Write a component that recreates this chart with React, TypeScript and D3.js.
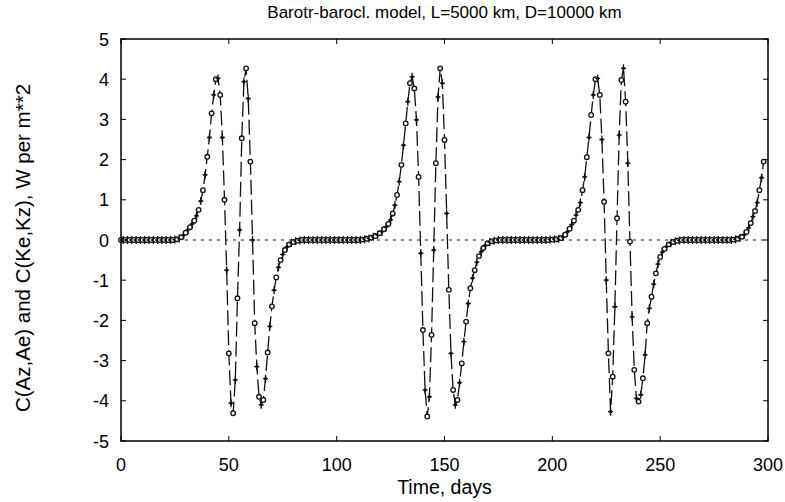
import * as d3 from "d3";

const TITLE = "Barotr-barocl. model, L=5000 km, D=10000 km";
const X_LABEL = "Time, days";
const Y_LABEL = "C(Az,Ae) and C(Ke,Kz), W per m**2";

const X_TICKS = [0, 50, 100, 150, 200, 250, 300];
const Y_TICKS = [-5, -4, -3, -2, -1, 0, 1, 2, 3, 4, 5];

// energy conversion, one value per day (index = day)
const FLUX = [
  // days 0-24: quiet
  0, 0, 0, 0, 0, 0, 0, 0, 0, 0, 0, 0, 0, 0, 0, 0, 0, 0, 0, 0, 0, 0, 0, 0, 0,
  // first event, days 25-83
  0.01, 0.02, 0.04, 0.07, 0.12, 0.18, 0.25, 0.32, 0.4, 0.48,
  0.6, 0.75, 0.97, 1.24, 1.62, 2.07, 2.55, 3.15, 3.61, 4.0,
  4.02, 3.61, 2.55, 1.0, -0.75, -2.82, -4.06, -4.31, -3.48, -1.45,
  0.25, 2.53, 3.94, 4.27, 3.52, 1.95, 0.0, -2.07, -3.15, -3.9,
  -4.1, -3.98, -3.45, -2.8, -2.15, -1.65, -1.25, -0.93, -0.68, -0.5,
  -0.36, -0.25, -0.17, -0.11, -0.07, -0.05, -0.03, -0.02, -0.01,
  // days 84-111: quiet
  0, 0, 0, 0, 0, 0, 0, 0, 0, 0, 0, 0, 0, 0, 0, 0, 0, 0, 0, 0, 0, 0, 0, 0, 0, 0, 0, 0,
  // second event, days 112-174
  0.01, 0.02, 0.03, 0.04, 0.06, 0.08, 0.1, 0.13, 0.17, 0.21,
  0.27, 0.33, 0.4, 0.5, 0.66, 0.87, 1.12, 1.45, 1.87, 2.36,
  2.9, 3.44, 3.9, 4.06, 3.77, 2.99, 1.57, -0.33, -2.24, -3.73,
  -4.39, -3.9, -2.36, -0.25, 1.91, 3.56, 4.27, 3.9, 2.49, 0.66,
  -1.24, -2.82, -3.73, -4.1, -3.98, -3.55, -3.07, -2.53, -2.03, -1.58,
  -1.2, -0.95, -0.75, -0.55, -0.4, -0.29, -0.2, -0.13, -0.08, -0.05,
  -0.03, -0.02, -0.01,
  // days 175-198: quiet
  0, 0, 0, 0, 0, 0, 0, 0, 0, 0, 0, 0, 0, 0, 0, 0, 0, 0, 0, 0, 0, 0, 0, 0,
  // third event, days 199-259
  0.01, 0.01, 0.02, 0.02, 0.03, 0.05, 0.08, 0.13, 0.2, 0.28,
  0.38, 0.48, 0.62, 0.75, 0.93, 1.24, 1.57, 2.06, 2.55, 3.11,
  3.61, 4.0, 4.02, 3.61, 2.5, 0.95, -1.0, -2.82, -4.27, -3.4,
  -1.66, 0.54, 2.61, 3.98, 4.27, 3.44, 1.91, -0.04, -1.91, -3.23,
  -3.94, -4.02, -3.85, -3.44, -2.86, -2.07, -1.7, -1.41, -1.1, -0.83,
  -0.6, -0.42, -0.3, -0.22, -0.16, -0.11, -0.07, -0.05, -0.03, -0.02,
  -0.01,
  // days 260-283: quiet
  0, 0, 0, 0, 0, 0, 0, 0, 0, 0, 0, 0, 0, 0, 0, 0, 0, 0, 0, 0, 0, 0, 0, 0,
  // fourth event starting, days 284-298
  0.01, 0.02, 0.03, 0.05, 0.08, 0.13, 0.2, 0.3, 0.42, 0.58,
  0.72, 0.93, 1.24, 1.55, 1.95,
];

const FONT = "'Liberation Sans', Arial, Helvetica, sans-serif";
const WIDTH = 785;
const HEIGHT = 502;

interface Pt {
  day: number;
  value: number;
}

export default function App() {
  const x = d3.scaleLinear().domain([0, 300]).range([121, 768]);
  const y = d3.scaleLinear().domain([-5, 5]).range([441, 39]);

  const points: Pt[] = FLUX.map((value, day) => ({ day, value }));
  const line = d3
    .line<Pt>()
    .x((d) => x(d.day))
    .y((d) => y(d.value));

  const [x0, x1] = x.range();
  const [yb, yt] = y.range();
  const tick = 5;

  return (
    <svg
      width={WIDTH}
      height={HEIGHT}
      style={{ position: "absolute", left: 0, top: 0, background: "#fff" }}
      fontFamily={FONT}
    >
      <text x={(x0 + x1) / 2} y={18} textAnchor="middle" fontSize={17}>
        {TITLE}
      </text>

      {/* zero reference */}
      <line
        x1={x(0)}
        x2={x(300)}
        y1={y(0)}
        y2={y(0)}
        stroke="#222"
        strokeWidth={1}
        strokeDasharray="3,5"
      />

      {/* series line */}
      <path
        d={line(points) ?? ""}
        fill="none"
        stroke="#111"
        strokeWidth={1.3}
        strokeDasharray="15,5"
      />

      {/* markers: C(Az,Ae) circles, C(Ke,Kz) crosses */}
      {points.map((p) =>
        p.day % 2 === 0 ? (
          <circle
            key={p.day}
            cx={x(p.day)}
            cy={y(p.value)}
            r={2.3}
            fill="#fff"
            stroke="#111"
            strokeWidth={1.3}
          />
        ) : (
          <g key={p.day} transform={`translate(${x(p.day)},${y(p.value)})`}>
            <path d="M0,-4V4M-2.5,0H2.5" stroke="#111" strokeWidth={1.3} />
            <circle r={1.6} fill="#111" />
          </g>
        )
      )}

      {/* frame */}
      <rect
        x={x0}
        y={yt}
        width={x1 - x0}
        height={yb - yt}
        fill="none"
        stroke="#000"
        strokeWidth={1.5}
      />

      {X_TICKS.map((t) => (
        <g key={`x${t}`}>
          <line x1={x(t)} x2={x(t)} y1={yb} y2={yb - tick} stroke="#000" />
          <line x1={x(t)} x2={x(t)} y1={yt} y2={yt + tick} stroke="#000" />
          <text x={x(t)} y={471} textAnchor="middle" fontSize={18}>
            {t}
          </text>
        </g>
      ))}

      {Y_TICKS.map((t) => (
        <g key={`y${t}`}>
          <line x1={x0} x2={x0 + tick} y1={y(t)} y2={y(t)} stroke="#000" />
          <line x1={x1} x2={x1 - tick} y1={y(t)} y2={y(t)} stroke="#000" />
          <text x={109} y={y(t) + 6.5} textAnchor="end" fontSize={18}>
            {t}
          </text>
        </g>
      ))}

      <text x={(x0 + x1) / 2} y={494} textAnchor="middle" fontSize={19.5}>
        {X_LABEL}
      </text>
      <text
        transform={`translate(30,${(yt + yb) / 2 + 8}) rotate(-90)`}
        textAnchor="middle"
        fontSize={20.5}
      >
        {Y_LABEL}
      </text>
    </svg>
  );
}
